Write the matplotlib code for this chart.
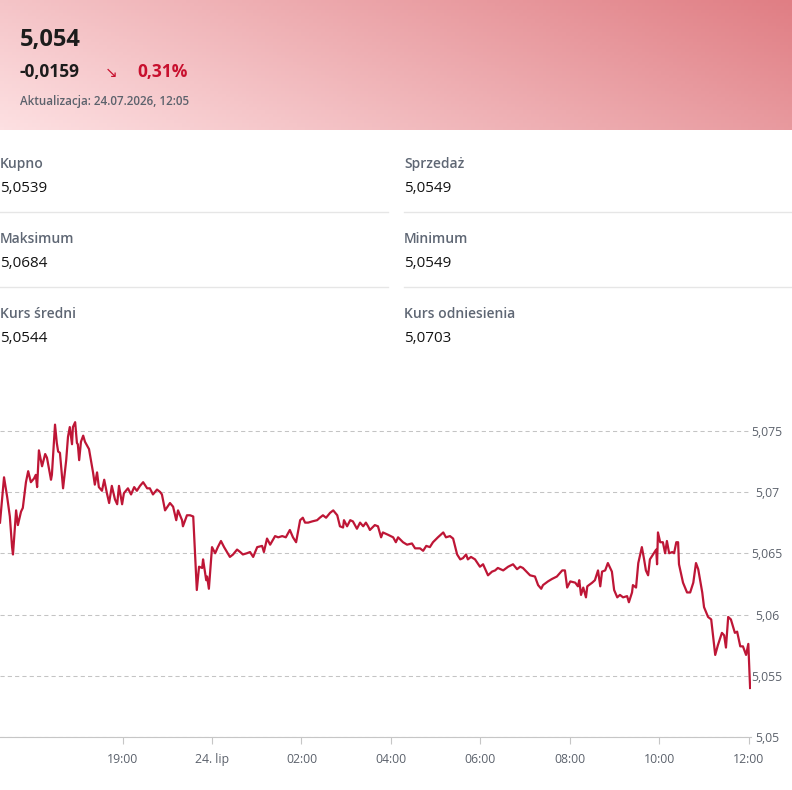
import numpy as np
import matplotlib
matplotlib.use("Agg")
import matplotlib.pyplot as plt

plt.rcParams["font.family"] = ["Open Sans", "DejaVu Sans"]

# header quote
quote = "5,054"
change = "-0,0159"
change_pct = "0,31%"
updated = "Aktualizacja: 24.07.2026, 12:05"

# stats table (label, value), left column then right column
stats_left = [("Kupno", "5,0539"), ("Maksimum", "5,0684"), ("Kurs średni", "5,0544")]
stats_right = [("Sprzedaż", "5,0549"), ("Minimum", "5,0549"), ("Kurs odniesienia", "5,0703")]

# intraday series; hours on the chart's ordinal axis (0 = 24. lip 00:00)
hours = [
    -4.74, -4.65, -4.58, -4.52, -4.47, -4.45, -4.38, -4.34, -4.27, -4.23,
    -4.16, -4.11, -4.05, -3.98, -3.94, -3.91, -3.87, -3.80, -3.73, -3.69,
    -3.60, -3.58, -3.51, -3.47, -3.44, -3.40, -3.33, -3.26, -3.22, -3.18,
    -3.13, -3.11, -3.06, -3.02, -3.00, -2.97, -2.93, -2.88, -2.84, -2.75,
    -2.66, -2.62, -2.57, -2.53, -2.46, -2.41, -2.35, -2.30, -2.24, -2.17,
    -2.12, -2.08, -2.01, -1.97, -1.88, -1.81, -1.74, -1.68, -1.61, -1.54,
    -1.45, -1.39, -1.32, -1.23, -1.16, -1.12, -1.05, -0.94, -0.87, -0.80,
    -0.76, -0.67, -0.65, -0.56, -0.49, -0.42, -0.34, -0.29, -0.22, -0.20,
    -0.13, -0.11, -0.07, 0.00, 0.07, 0.13, 0.20, 0.27, 0.40, 0.47,
    0.56, 0.63, 0.69, 0.78, 0.85, 0.92, 1.01, 1.12, 1.16, 1.23,
    1.30, 1.41, 1.48, 1.57, 1.65, 1.74, 1.81, 1.88, 1.97, 2.03,
    2.08, 2.15, 2.24, 2.35, 2.41, 2.48, 2.55, 2.64, 2.71, 2.80,
    2.86, 2.93, 2.95, 3.02, 3.09, 3.15, 3.24, 3.31, 3.38, 3.44,
    3.49, 3.53, 3.64, 3.71, 3.78, 3.82, 3.94, 4.05, 4.11, 4.16,
    4.27, 4.36, 4.47, 4.54, 4.65, 4.72, 4.79, 4.87, 4.94, 5.05,
    5.17, 5.23, 5.32, 5.39, 5.48, 5.55, 5.61, 5.68, 5.72, 5.79,
    5.88, 5.99, 6.06, 6.17, 6.26, 6.33, 6.39, 6.51, 6.62, 6.73,
    6.82, 6.89, 6.95, 7.11, 7.22, 7.29, 7.36, 7.40, 7.51, 7.60,
    7.71, 7.83, 7.89, 7.94, 8.01, 8.12, 8.18, 8.21, 8.25, 8.30,
    8.36, 8.39, 8.50, 8.56, 8.63, 8.68, 8.72, 8.79, 8.85, 8.94,
    8.99, 9.06, 9.12, 9.19, 9.28, 9.32, 9.39, 9.41, 9.48, 9.53,
    9.61, 9.66, 9.70, 9.75, 9.79, 9.86, 9.93, 9.95, 9.97, 10.02,
    10.08, 10.13, 10.17, 10.22, 10.29, 10.33, 10.38, 10.42, 10.44, 10.53,
    10.62, 10.69, 10.76, 10.82, 10.87, 10.96, 11.00, 11.09, 11.16, 11.25,
    11.31, 11.40, 11.45, 11.49, 11.54, 11.60, 11.69, 11.74, 11.81, 11.87,
    11.94, 11.99, 12.03,
]
rate = [
    5.0675, 5.0712, 5.0696, 5.0680, 5.0655, 5.0649, 5.0685, 5.0673, 5.0684, 5.0687,
    5.0708, 5.0717, 5.0708, 5.0711, 5.0714, 5.0704, 5.0734, 5.0721, 5.0731, 5.0728,
    5.0710, 5.0714, 5.0755, 5.0740, 5.0733, 5.0732, 5.0703, 5.0726, 5.0745, 5.0753,
    5.0739, 5.0753, 5.0757, 5.0740, 5.0739, 5.0726, 5.0741, 5.0746, 5.0741, 5.0735,
    5.0716, 5.0706, 5.0716, 5.0704, 5.0701, 5.0710, 5.0699, 5.0691, 5.0705, 5.0694,
    5.0690, 5.0705, 5.0690, 5.0699, 5.0703, 5.0698, 5.0704, 5.0701, 5.0705, 5.0708,
    5.0703, 5.0703, 5.0698, 5.0702, 5.0700, 5.0698, 5.0685, 5.0691, 5.0688, 5.0677,
    5.0685, 5.0677, 5.0672, 5.0681, 5.0681, 5.0680, 5.0620, 5.0639, 5.0638, 5.0645,
    5.0628, 5.0631, 5.0621, 5.0655, 5.0650, 5.0655, 5.0660, 5.0655, 5.0647, 5.0649,
    5.0653, 5.0651, 5.0649, 5.0650, 5.0651, 5.0647, 5.0655, 5.0656, 5.0651, 5.0662,
    5.0657, 5.0664, 5.0663, 5.0664, 5.0663, 5.0669, 5.0663, 5.0659, 5.0677, 5.0679,
    5.0675, 5.0675, 5.0676, 5.0677, 5.0679, 5.0681, 5.0679, 5.0683, 5.0685, 5.0681,
    5.0672, 5.0671, 5.0677, 5.0672, 5.0677, 5.0676, 5.0670, 5.0675, 5.0672, 5.0675,
    5.0672, 5.0669, 5.0673, 5.0672, 5.0663, 5.0667, 5.0665, 5.0663, 5.0659, 5.0663,
    5.0659, 5.0657, 5.0658, 5.0654, 5.0654, 5.0652, 5.0656, 5.0655, 5.0659, 5.0663,
    5.0667, 5.0663, 5.0664, 5.0662, 5.0649, 5.0645, 5.0646, 5.0649, 5.0645, 5.0647,
    5.0645, 5.0639, 5.0641, 5.0632, 5.0635, 5.0636, 5.0638, 5.0636, 5.0639, 5.0641,
    5.0637, 5.0639, 5.0638, 5.0632, 5.0631, 5.0624, 5.0621, 5.0624, 5.0627, 5.0629,
    5.0631, 5.0636, 5.0636, 5.0622, 5.0627, 5.0626, 5.0623, 5.0628, 5.0616, 5.0622,
    5.0614, 5.0623, 5.0626, 5.0628, 5.0636, 5.0623, 5.0635, 5.0636, 5.0642, 5.0635,
    5.0620, 5.0614, 5.0616, 5.0614, 5.0615, 5.0610, 5.0618, 5.0624, 5.0622, 5.0642,
    5.0655, 5.0645, 5.0636, 5.0632, 5.0645, 5.0649, 5.0653, 5.0641, 5.0667, 5.0659,
    5.0659, 5.0650, 5.0660, 5.0650, 5.0651, 5.0650, 5.0659, 5.0659, 5.0641, 5.0626,
    5.0618, 5.0618, 5.0626, 5.0642, 5.0637, 5.0618, 5.0606, 5.0598, 5.0596, 5.0567,
    5.0575, 5.0585, 5.0583, 5.0573, 5.0598, 5.0596, 5.0585, 5.0586, 5.0574, 5.0574,
    5.0567, 5.0576, 5.0540,
]

tick_hours = [-2, 0, 2, 4, 6, 8, 10, 12]
tick_labels = ["19:00", "24. lip", "02:00", "04:00", "06:00", "08:00", "10:00", "12:00"]
y_ticks = [5.05, 5.055, 5.06, 5.065, 5.07, 5.075]
y_labels = ["5,05", "5,055", "5,06", "5,065", "5,07", "5,075"]

W, H = 792, 790
fig = plt.figure(figsize=(W / 100, H / 100), dpi=100)
fig.patch.set_facecolor("white")


def fx(x):
    return x / W


def fy(y):
    return 1 - y / H


# pink gradient header
hdr = fig.add_axes([0, fy(130), 1, 130 / H])
gx, gy = np.meshgrid(np.linspace(0, 1, 200), np.linspace(0, 1, 40))
t = 0.72 * gx + 0.28 * (1 - gy)
c0 = np.array([253, 224, 226]) / 255
c1 = np.array([224, 126, 132]) / 255
img = c0[None, None, :] * (1 - t[..., None]) + c1[None, None, :] * t[..., None]
hdr.imshow(img, aspect="auto", extent=[0, 1, 0, 1], origin="upper")
hdr.axis("off")

fig.text(fx(20), fy(46), quote, fontsize=17, fontweight="bold", color="#1c1c1c", va="baseline")
fig.text(fx(20), fy(77), change, fontsize=12.5, fontweight="bold", color="#1c1c1c", va="baseline")
fig.text(fx(105), fy(77), "↘", fontsize=11, color="#c8102e", va="baseline",
         family=["DejaVu Sans"])
fig.text(fx(137), fy(77), change_pct, fontsize=12.5, fontweight="bold", color="#c8102e", va="baseline")
fig.text(fx(20), fy(105), updated, fontsize=8.4, fontweight="semibold", color="#5c626c", va="baseline")

# stats table
for col_x, rows in [(0, stats_left), (404, stats_right)]:
    for i, (label, value) in enumerate(rows):
        base = 168 + 75 * i
        fig.text(fx(col_x), fy(base), label, fontsize=10, fontweight="semibold",
                 color="#5f6774", va="baseline")
        fig.text(fx(col_x), fy(base + 24), value, fontsize=11, fontweight="medium",
                 color="#141414", va="baseline")
for y in [212, 287]:
    fig.add_artist(plt.Line2D([fx(0), fx(388)], [fy(y), fy(y)], color="#e6e6e6", lw=1))
    fig.add_artist(plt.Line2D([fx(404), fx(792)], [fy(y), fy(y)], color="#e6e6e6", lw=1))

# chart
ax = fig.add_axes([0, fy(737), 751 / W, (737 - 394) / H])
ax.plot(hours, rate, color="#be1636", lw=1.6, solid_joinstyle="round")
ax.set_xlim(-4.74, 12.05)
ax.set_ylim(5.05, 5.078)

ax.set_yticks(y_ticks)
ax.set_yticklabels(y_labels)
ax.yaxis.tick_right()
ax.tick_params(axis="y", length=0, pad=11.5, labelsize=8.8, labelcolor="#5c626c")
for lbl in ax.get_yticklabels():
    lbl.set_horizontalalignment("center")
ax.set_xticks(tick_hours)
ax.set_xticklabels(tick_labels)
ax.tick_params(axis="x", length=5, width=0.8, color="#c6c6c6", pad=6.5,
               labelsize=8.8, labelcolor="#5c626c")

ax.grid(axis="y", color="#c4c4c4", linestyle=(0, (4, 3)), lw=0.75)
for side in ["top", "left", "right"]:
    ax.spines[side].set_visible(False)
ax.spines["bottom"].set_color("#c6c6c6")
ax.spines["bottom"].set_linewidth(0.8)
ax.set_facecolor("none")

fig.savefig("out.png", dpi=100)
